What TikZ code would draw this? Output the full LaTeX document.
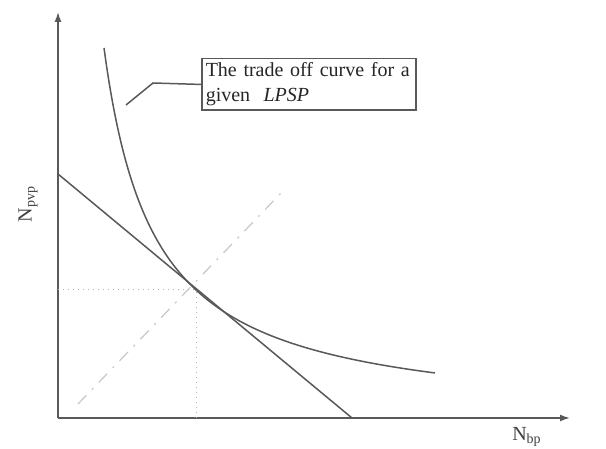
\documentclass[tikz,border=0pt]{standalone}
\usepackage{fontspec}
\setmainfont{Liberation Serif}
\usetikzlibrary{arrows.meta}
\begin{document}
\begin{tikzpicture}[x=0.5pt,y=-0.5pt,
  axis/.style={draw=black!65,line width=0.8pt,-{Latex[length=5pt,width=3.5pt]}},
  curveline/.style={draw=black!65,line width=0.75pt},
  guide/.style={draw=black!30,line width=0.5pt,dotted},
  ray/.style={draw=black!22,line width=0.6pt,dash pattern=on 6pt off 4pt on 1pt off 4pt},
  lbl/.style={font=\fontsize{10pt}{12pt}\selectfont, inner sep=0pt, text=black!75},
  callout/.style={draw=black!65,line width=0.75pt,font=\fontsize{10pt}{12.5pt}\selectfont,
    text width=103pt, inner xsep=2pt, inner ysep=2pt, align=left, text=black!85}]
\useasboundingbox (0,0) rectangle (606,449);
\fill[white] (0,0) rectangle (606,449);
% axes
\coordinate (O) at (58,418);
\coordinate (ytop) at (58,12);
\coordinate (xend) at (570,418);
\draw[axis] (O) -- (ytop);
\draw[axis] (O) -- (xend);
% ray
\coordinate (r1) at (78,404);
\coordinate (r2) at (282,192);
\draw[ray] (r1) -- (r2);
% tangent point guides
\coordinate (T) at (196,290);
\draw[guide] (O |- T) -- (T) -- (T |- O);
% budget line
\coordinate (L1) at (58,174);
\coordinate (L2) at (352,418);
\draw[curveline] (L1) -- (L2);
% trade off curve
\draw[curveline] plot[domain=104:435, samples=120, smooth] (\x, {422.4 - 188.53/((\x-53.65)/100)});
% callout box
\node[callout, anchor=north west] (box) at (201,58) {The trade off curve for a\\given\ \ \textit{LPSP}};
\coordinate (cbend) at (153,83);
\coordinate (ctip) at (126,105);
\draw[curveline] (box.west) -- (cbend) -- (ctip);
% labels
\node[lbl, rotate=90] (ylab) at (28,204) {N\textsubscript{pvp}};
\node[lbl] (xlab) at (527,437) {N\textsubscript{bp}};
\end{tikzpicture}
\end{document}
